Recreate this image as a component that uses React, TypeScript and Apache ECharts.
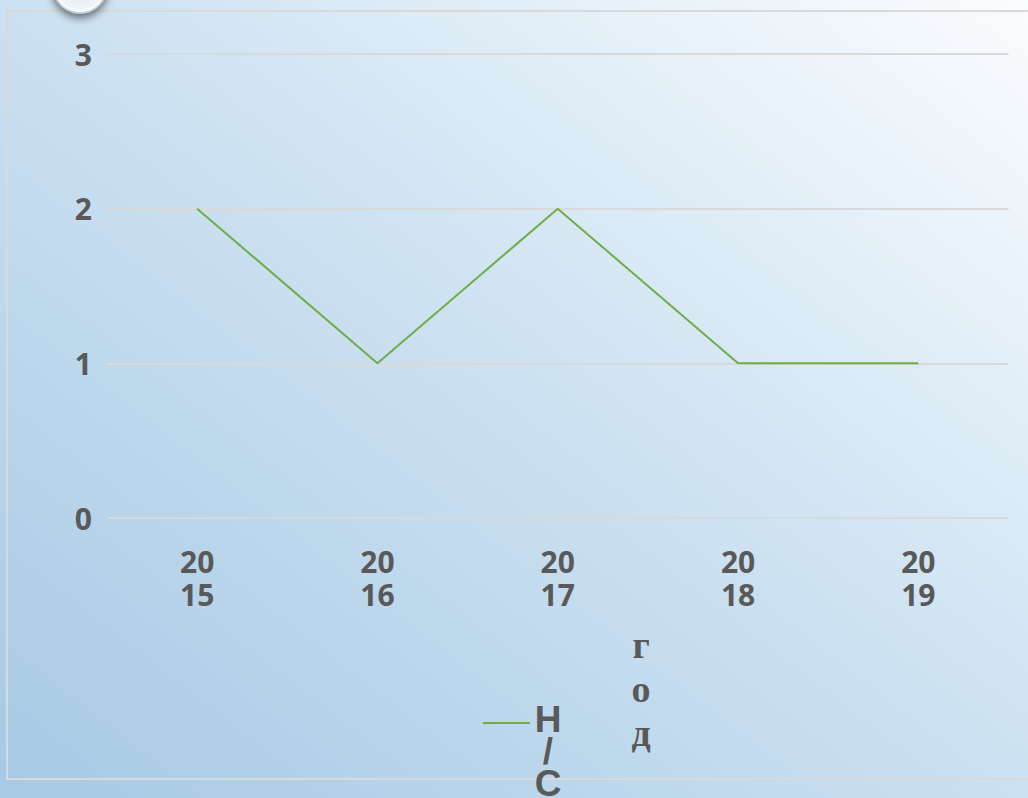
import React, { useEffect, useRef } from "react";
import * as echarts from "echarts";

const categories = ["20\n15", "20\n16", "20\n17", "20\n18", "20\n19"];
const seriesName = "Н\n/\nС";
const values = [2, 1, 2, 1, 1];
const axisTitle = "г\nо\nд";

export default function App() {
  const ref = useRef<HTMLDivElement>(null);
  useEffect(() => {
    if (!ref.current) return;
    const chart = echarts.init(ref.current, null, { renderer: "svg" });
    chart.setOption({
      animation: false,
      backgroundColor: new echarts.graphic.LinearGradient(0, 1, 1, 0, [
        { offset: 0, color: "#a6c9e4" },
        { offset: 0.55, color: "#cfe3f2" },
        { offset: 1, color: "#fafcfe" },
      ]),
      grid: { left: 107, right: 19.5, top: 54, bottom: 280 },
      xAxis: {
        type: "category",
        data: categories,
        boundaryGap: true,
        axisLine: { show: false },
        axisTick: { show: false },
        axisLabel: {
          color: "#595959",
          fontFamily: "Open Sans",
          fontWeight: "bold",
          fontSize: 30,
          lineHeight: 33,
          margin: 27,
        },
      },
      yAxis: {
        type: "value",
        min: 0,
        max: 3,
        interval: 1,
        axisLine: { show: false },
        axisTick: { show: false },
        splitLine: { lineStyle: { color: "#d9d9d9", width: 2 } },
        axisLabel: {
          color: "#595959",
          fontFamily: "Open Sans",
          fontWeight: "bold",
          fontSize: 30,
          margin: 15,
        },
      },
      legend: { show: false },
      series: [
        {
          name: seriesName,
          type: "line",
          data: values,
          symbol: "none",
          itemStyle: { color: "#70ad47" },
          lineStyle: { color: "#70ad47", width: 2 },
        },
      ],
      graphic: [
        {
          type: "rect",
          shape: { x: 7, y: 11, width: 1100, height: 768 },
          style: { fill: "none", stroke: "#d9d9d9", lineWidth: 2 },
          z: 0,
        },
        {
          type: "circle",
          shape: { cx: 80, cy: -14, r: 27 },
          style: {
            fill: new echarts.graphic.RadialGradient(0.5, 0.5, 0.5, [
              { offset: 0, color: "#dfe6ec" },
              { offset: 0.8, color: "#eef3f7" },
              { offset: 1, color: "#ffffff" },
            ]),
            stroke: "#c5ccd2",
            lineWidth: 1.5,
            shadowBlur: 8,
            shadowOffsetY: 4,
            shadowColor: "rgba(0,0,0,0.55)",
          },
          z: 10,
        },
        {
          type: "text",
          x: 641,
          y: 623,
          style: {
            text: axisTitle,
            fill: "#595959",
            font: "bold 38px 'Liberation Serif'",
            lineHeight: 44,
            align: "center",
            verticalAlign: "top",
          },
        },
        {
          type: "line",
          shape: { x1: 483, y1: 723, x2: 530, y2: 723 },
          style: { stroke: "#70ad47", lineWidth: 2 },
        },
        {
          type: "text",
          x: 548,
          y: 703,
          style: {
            text: seriesName,
            fill: "#595959",
            font: "bold 37px 'Liberation Sans'",
            lineHeight: 32,
            align: "center",
            verticalAlign: "top",
          },
        },
      ],
    });
    return () => chart.dispose();
  }, []);
  return (
    <div
      ref={ref}
      style={{ position: "absolute", left: 0, top: 0, width: 1028, height: 798 }}
    />
  );
}
